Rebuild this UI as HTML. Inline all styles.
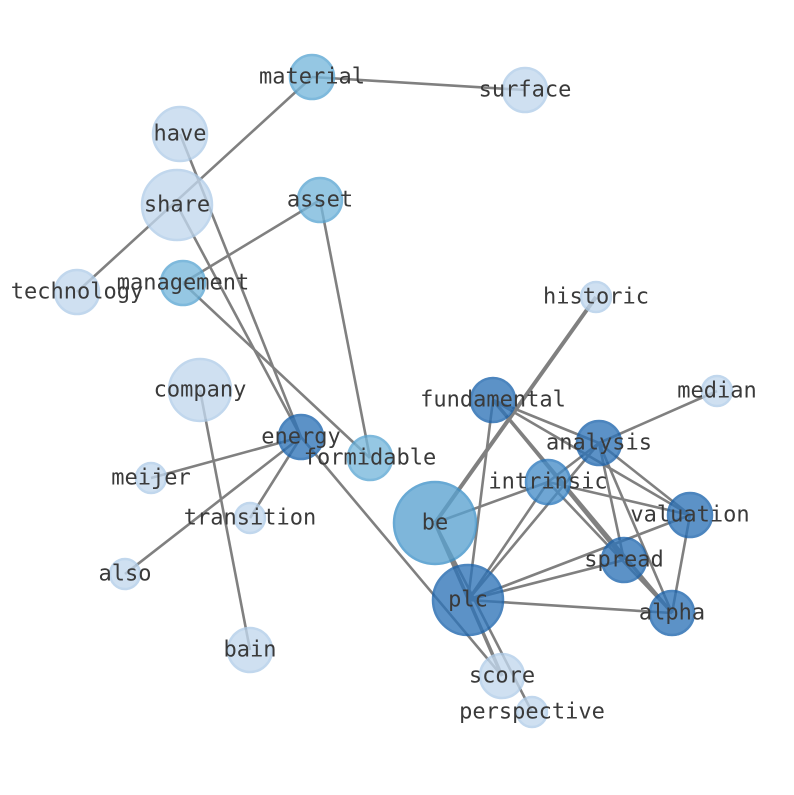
<!DOCTYPE html>
<html><head><style>body{margin:0;background:#fff}svg text{font-family:"DejaVu Sans Mono","Liberation Mono",monospace;font-size:22px;fill:#3a3a3a;text-anchor:middle;dominant-baseline:central}</style></head><body>
<svg width="794" height="790" xmlns="http://www.w3.org/2000/svg">
<g stroke="#808080" stroke-width="2.6" fill="none">
<line x1="312" y1="77" x2="525" y2="90"/>
<line x1="312" y1="77" x2="77" y2="292"/>
<line x1="180" y1="134" x2="301" y2="437"/>
<line x1="177" y1="205" x2="301" y2="437"/>
<line x1="320" y1="200" x2="183" y2="283"/>
<line x1="320" y1="200" x2="370" y2="458"/>
<line x1="183" y1="283" x2="370" y2="458"/>
<line x1="200" y1="390" x2="250" y2="650"/>
<line x1="301" y1="437" x2="151" y2="478"/>
<line x1="301" y1="437" x2="125" y2="574"/>
<line x1="301" y1="437" x2="250" y2="518"/>
<line x1="301" y1="437" x2="502" y2="676"/>
<line x1="596" y1="297" x2="435" y2="523" stroke-width="4"/>
<line x1="493" y1="400" x2="468" y2="600"/>
<line x1="493" y1="400" x2="599" y2="443"/>
<line x1="493" y1="400" x2="690" y2="515"/>
<line x1="493" y1="400" x2="624" y2="560"/>
<line x1="493" y1="400" x2="672" y2="613" stroke-width="3.5"/>
<line x1="548" y1="482" x2="435" y2="523"/>
<line x1="548" y1="482" x2="468" y2="600"/>
<line x1="548" y1="482" x2="690" y2="515"/>
<line x1="548" y1="482" x2="672" y2="613"/>
<line x1="599" y1="443" x2="548" y2="482"/>
<line x1="599" y1="443" x2="468" y2="600"/>
<line x1="599" y1="443" x2="624" y2="560"/>
<line x1="599" y1="443" x2="672" y2="613"/>
<line x1="599" y1="443" x2="690" y2="515"/>
<line x1="599" y1="443" x2="717" y2="391"/>
<line x1="690" y1="515" x2="468" y2="600"/>
<line x1="690" y1="515" x2="672" y2="613"/>
<line x1="624" y1="560" x2="468" y2="600"/>
<line x1="468" y1="600" x2="672" y2="613"/>
<line x1="435" y1="523" x2="502" y2="676" stroke-width="3.5"/>
<line x1="435" y1="523" x2="532" y2="712"/>
</g>
<g stroke-width="2.5" opacity="0.78">
<g fill="#c2d8ee" stroke="#b0cde9">
<circle cx="525" cy="90" r="22"/><circle cx="180" cy="134" r="27"/><circle cx="177" cy="205" r="35"/>
<circle cx="77" cy="292" r="22"/><circle cx="596" cy="297" r="15"/><circle cx="200" cy="390" r="31"/>
<circle cx="717" cy="391" r="15"/><circle cx="151" cy="478" r="15"/><circle cx="250" cy="518" r="15"/>
<circle cx="125" cy="574" r="15"/><circle cx="250" cy="650" r="22"/><circle cx="502" cy="676" r="22"/>
<circle cx="532" cy="712" r="15"/>
</g>
<g fill="#78b8dc" stroke="#5aa6d3">
<circle cx="312" cy="77" r="22"/><circle cx="320" cy="200" r="22"/><circle cx="183" cy="283" r="22"/>
<circle cx="370" cy="458" r="22"/>
</g>
<circle cx="435" cy="523" r="41" fill="#5aa2d0" stroke="#3e92c8"/>
<circle cx="548" cy="482" r="22" fill="#478ec8" stroke="#2a78bd"/>
<g fill="#2f74b8" stroke="#1a63ad">
<circle cx="493" cy="400" r="22"/><circle cx="301" cy="437" r="22"/><circle cx="599" cy="443" r="22"/>
<circle cx="690" cy="515" r="22"/><circle cx="624" cy="560" r="22"/><circle cx="468" cy="600" r="35"/>
<circle cx="672" cy="613" r="22"/>
</g>
</g>
<g>
<text x="312" y="77">material</text><text x="525" y="90">surface</text><text x="180" y="134">have</text>
<text x="177" y="205">share</text><text x="320" y="200">asset</text><text x="77" y="292">technology</text>
<text x="183" y="283">management</text><text x="596" y="297">historic</text><text x="200" y="390">company</text>
<text x="717" y="391">median</text><text x="493" y="400">fundamental</text><text x="301" y="437">energy</text>
<text x="599" y="443">analysis</text><text x="370" y="458">formidable</text><text x="151" y="478">meijer</text>
<text x="548" y="482">intrinsic</text><text x="690" y="515">valuation</text><text x="250" y="518">transition</text>
<text x="435" y="523">be</text><text x="624" y="560">spread</text><text x="125" y="574">also</text>
<text x="468" y="600">plc</text><text x="672" y="613">alpha</text><text x="250" y="650">bain</text>
<text x="502" y="676">score</text><text x="532" y="712">perspective</text>
</g>
</svg>
</body></html>
